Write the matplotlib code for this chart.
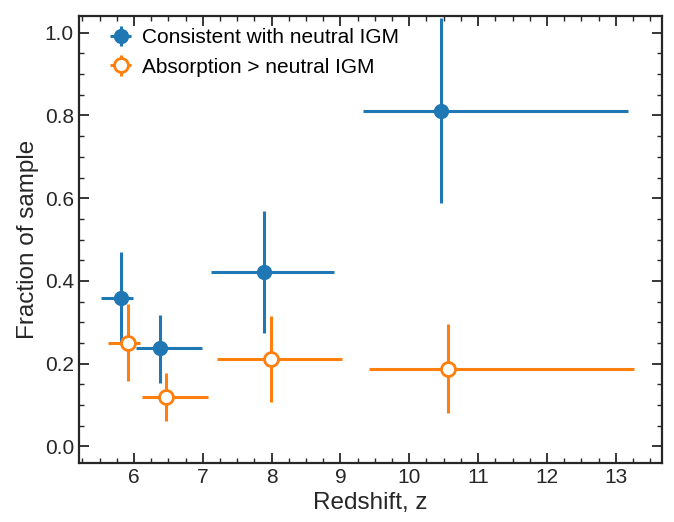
import matplotlib.pyplot as plt
import numpy as np
from matplotlib.ticker import MultipleLocator

plt.rcParams['font.family'] = ['Liberation Sans', 'DejaVu Sans']

# Consistent with neutral IGM
z_neut = [5.81, 6.38, 7.89, 10.46]
z_neut_lo = [5.52, 6.03, 7.12, 9.33]
z_neut_hi = [5.99, 6.99, 8.91, 13.18]
f_neut = [0.358, 0.237, 0.422, 0.812]
f_neut_lo = [0.248, 0.154, 0.274, 0.588]
f_neut_hi = [0.469, 0.318, 0.570, 1.036]

# Absorption > neutral IGM
z_abs = [5.92, 6.47, 7.99, 10.56]
z_abs_lo = [5.63, 6.12, 7.21, 9.42]
z_abs_hi = [6.09, 7.08, 9.02, 13.27]
f_abs = [0.251, 0.119, 0.212, 0.188]
f_abs_lo = [0.158, 0.061, 0.107, 0.081]
f_abs_hi = [0.345, 0.177, 0.316, 0.296]


def asym(c, lo, hi):
    c = np.array(c)
    return [c - np.array(lo), np.array(hi) - c]


fig = plt.figure(figsize=(6.74, 5.22), dpi=100)
ax = fig.add_axes([0.117, 0.113, 0.865, 0.856])

ax.errorbar(z_neut, f_neut, xerr=asym(z_neut, z_neut_lo, z_neut_hi),
            yerr=asym(f_neut, f_neut_lo, f_neut_hi), fmt='o', color='#1f77b4',
            ms=10, elinewidth=2.2, capsize=0, label='Consistent with neutral IGM')
ax.errorbar(z_abs, f_abs, xerr=asym(z_abs, z_abs_lo, z_abs_hi),
            yerr=asym(f_abs, f_abs_lo, f_abs_hi), fmt='o', color='#ff7f0e',
            mfc='white', mec='#ff7f0e', mew=2, ms=10, elinewidth=2.2, capsize=0,
            label='Absorption > neutral IGM')

ax.set_xlim(5.2, 13.67)
ax.set_ylim(-0.04, 1.04)
ax.xaxis.set_major_locator(MultipleLocator(1))
ax.xaxis.set_minor_locator(MultipleLocator(0.25))
ax.yaxis.set_major_locator(MultipleLocator(0.2))
ax.yaxis.set_minor_locator(MultipleLocator(0.05))
ax.tick_params(which='both', direction='in', top=True, right=True, labelsize=15, colors='#262626')
ax.tick_params(which='major', length=7, width=1.3)
ax.tick_params(which='minor', length=3.5, width=1)
for s in ax.spines.values():
    s.set_linewidth(1.6)
    s.set_color('#262626')

ax.set_xlabel('Redshift, z', fontsize=17.5, color='#262626')
ax.set_ylabel('Fraction of sample', fontsize=17.5, color='#262626')
ax.legend(loc='upper left', bbox_to_anchor=(0.022, 1.0), borderaxespad=0.18,
          frameon=False, fontsize=15, handlelength=1.63, handletextpad=0.2)

fig.savefig('out.png', dpi=100)
